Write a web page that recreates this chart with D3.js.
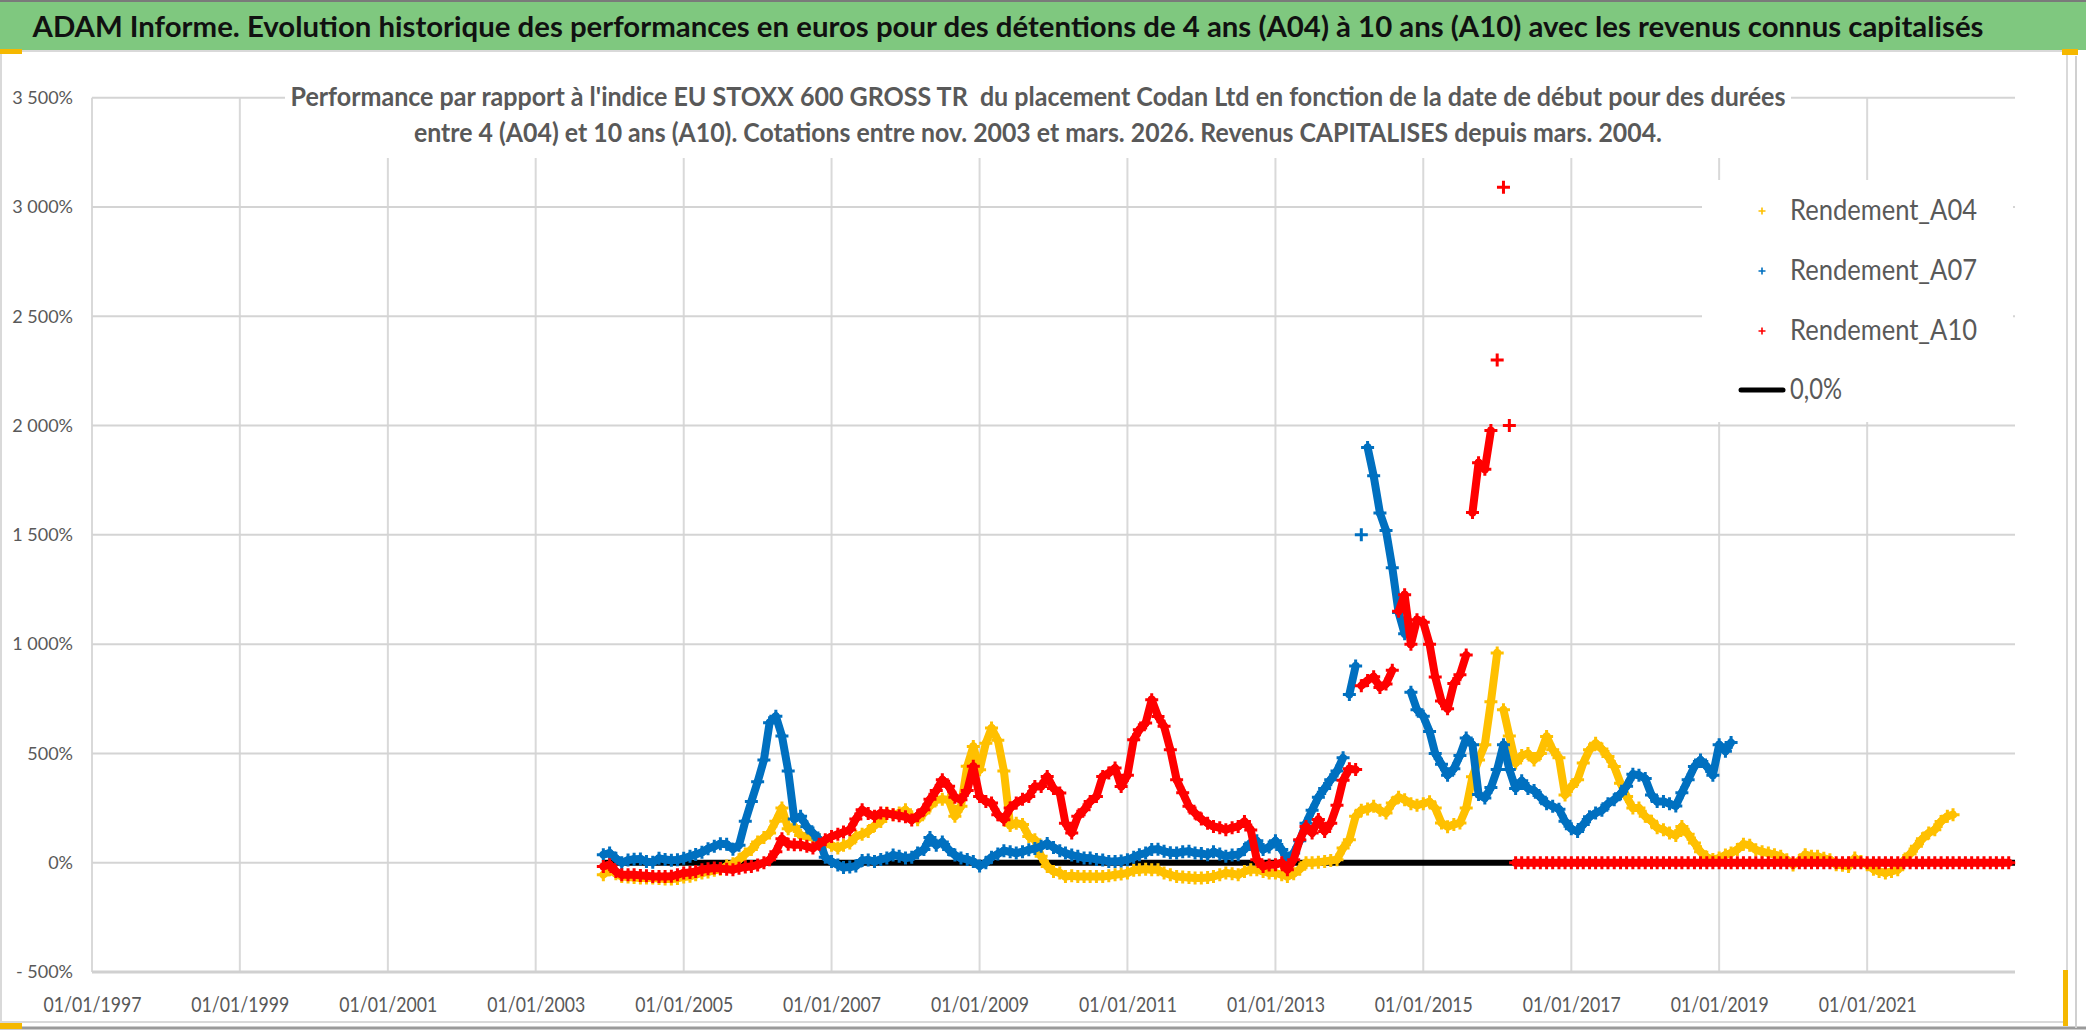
<!DOCTYPE html>
<html>
<head>
<meta charset="utf-8">
<script src="https://cdn.jsdelivr.net/npm/d3@7"></script>
<style>
  body { margin: 0; background: #fff; overflow: hidden; }
  text { font-family: Lato, "Open Sans", sans-serif; }
</style>
</head>
<body>
<div class="main-graph"></div>
<script>
// ====== Data (one value per month, first value = Dec 2003) ======
var firstMonth = "2003-12";

var a04 = [
  -55,
  -32,-50,-63,-65,-68,-70,-70,-70,-72,-74,-75,-72,
  -65,-62,-55,-47,-42,-35,-30,-15,-5,14,40,60,
  95,115,136,190,250,155,166,125,120,115,105,90,
  80,67,80,90,120,130,143,170,189,227,220,227,
  242,210,197,227,260,288,290,288,212,258,441,532,
  425,547,616,560,420,170,181,175,120,105,29,-17,
  -40,-47,-63,-60,-63,-63,-63,-63,-63,-60,-55,-52,
  -47,-35,-32,-30,-32,-32,-47,-55,-63,-65,-68,-70,
  -70,-68,-63,-55,-47,-50,-55,-40,-32,-32,-40,-47,
  -47,-55,-63,-50,-30,0,0,2,6,10,14,67,
  105,212,240,246,258,240,227,273,300,288,270,263,
  270,279,250,182,165,175,182,250,393,470,540,736,
  960,700,580,456,490,500,470,500,578,517,480,310,
  349,380,456,517,547,520,486,440,364,303,250,250,
  212,190,160,151,136,125,166,130,90,50,25,15,
  21,35,44,60,85,80,59,50,44,37,30,14,
  -10,10,37,30,29,20,14,-9,-12,-17,21,5,
  -9,-30,-40,-47,-40,-32,10,40,75,110,136,151,
  189,212,220
];

var a07 = [
  37,
  44,20,0,12,16,17,5,2,20,15,11,13,
  20,29,38,48,64,75,87,84,62,80,190,280,
  370,470,640,670,580,420,200,212,165,136,105,25,
  5,-10,-22,-20,-15,10,12,6,15,21,35,30,
  22,25,45,60,115,80,95,60,35,21,15,5,
  -15,0,25,40,55,50,44,50,59,65,75,88,
  70,55,44,35,29,22,21,15,12,6,6,8,
  14,25,37,44,60,62,52,46,44,50,52,45,
  42,37,50,40,29,35,37,60,90,100,60,72,
  100,60,14,44,100,180,240,300,340,380,420,480,
  770,900,1500,1900,1770,1600,1520,1350,1145,1047,780,700,
  670,600,500,450,400,430,490,570,540,312,296,344,
  426,540,426,340,375,340,330,300,270,258,245,190,
  155,143,175,210,227,240,270,288,315,350,405,400,
  385,310,280,280,270,260,320,380,440,470,440,400,
  540,510,550
];

var a10 = [
  -17,
  -9,-40,-55,-55,-55,-58,-60,-63,-63,-63,-62,-55,
  -47,-45,-40,-32,-28,-24,-26,-30,-32,-25,-20,-17,
  -10,0,14,50,110,85,82,82,75,67,85,105,
  120,130,140,151,200,242,225,212,227,225,220,215,
  210,195,215,242,290,330,380,350,300,288,330,441,
  303,280,273,220,197,250,273,290,303,349,349,395,
  340,319,180,136,212,242,280,303,395,410,433,349,
  400,563,608,639,746,669,624,517,380,320,258,227,
  200,181,166,160,151,160,166,189,150,14,-17,-10,
  -9,0,-32,14,105,166,136,198,143,181,263,377,
  430,426,810,834,851,802,818,880,1150,1226,1000,1112,
  1100,1000,850,740,704,820,860,950,1602,1830,1800,1977,
  2300,3090,2000,
  0,0,0,0,0,0,0,0,0,
  0,0,0,0,0,0,0,0,0,0,0,0,
  0,0,0,0,0,0,0,0,0,0,0,0,
  0,0,0,0,0,0,0,0,0,0,0,0,
  0,0,0,0,0,0,0,0,0,0,0,0,
  0,0,0,0,0,0,0,0,0,0,0,0,
  0,0,0,0,0,0,0,0,0,0,0,0
];

var zeroLine = ["2003-12-01", "2023-01-01"];

var xTickYears = [1997, 1999, 2001, 2003, 2005, 2007, 2009, 2011, 2013, 2015, 2017, 2019, 2021];
var yTicks = [-500, 0, 500, 1000, 1500, 2000, 2500, 3000, 3500];

var titleText = "ADAM Informe. Evolution historique des performances en euros pour des détentions de 4 ans (A04) à 10 ans (A10) avec les revenus connus capitalisés";
var subtitleLines = [
  "Performance par rapport à l'indice EU STOXX 600 GROSS TR  du placement Codan Ltd en fonction de la date de début pour des durées",
  "entre 4 (A04) et 10 ans (A10). Cotations entre nov. 2003 et mars. 2026. Revenus CAPITALISES depuis mars. 2004."
];
var seriesNames = ["Rendement_A04", "Rendement_A07", "Rendement_A10"];
var lineName = "0,0%";

// ====== Layout ======
var width = 2086, height = 1031;
var plot = {left: 92, right: 2015, top: 97.7, bottom: 972};
var colors = ["#FFC000", "#0070C0", "#FF0000"];

var svg = d3.select(".main-graph")
            .append("svg")
            .attr("width", width)
            .attr("height", height);

// Title band
svg.append("rect")
   .attr("x", 0).attr("y", 0)
   .attr("width", width).attr("height", 50)
   .attr("fill", "#7FC87F");
svg.append("line")
   .attr("x1", 0).attr("x2", width).attr("y1", 1).attr("y2", 1)
   .attr("stroke", "#7a7a7a").attr("stroke-width", 2);
svg.append("text")
   .attr("x", 1008).attr("y", 37)
   .attr("text-anchor", "middle")
   .attr("textLength", 1951)
   .attr("lengthAdjust", "spacingAndGlyphs")
   .style("font-size", "28px")
   .style("font-weight", "bold")
   .attr("fill", "#111")
   .text(titleText);

// Chart frame + selection marks
svg.append("rect")
   .attr("x", 1).attr("y", 51)
   .attr("width", 2066).attr("height", 971)
   .attr("fill", "none")
   .attr("stroke", "#d9d9d9").attr("stroke-width", 2);
svg.append("line")
   .attr("x1", 0).attr("x2", width).attr("y1", 1028).attr("y2", 1028)
   .attr("stroke", "#9a9a9a").attr("stroke-width", 3);
svg.append("line")
   .attr("x1", 2076).attr("x2", 2076).attr("y1", 56).attr("y2", 1028)
   .attr("stroke", "#d0d0d0").attr("stroke-width", 2);
[[0, 49, 22, 5], [0, 1023, 22, 6], [2062, 49, 16, 6], [2063, 970, 5, 56]].forEach(function(r){
  svg.append("rect")
     .attr("x", r[0]).attr("y", r[1]).attr("width", r[2]).attr("height", r[3])
     .attr("fill", "#F5B800");
});

// ====== Scales ======
var parseDay = d3.timeParse("%Y-%m-%d");
var parseMonth = d3.timeParse("%Y-%m");
var m0 = parseMonth(firstMonth);

var x = d3.scaleTime()
          .domain([new Date(1997, 0, 1), new Date(2023, 0, 1)])
          .range([plot.left, plot.right]);
var y = d3.scaleLinear()
          .domain([-500, 3500])
          .range([plot.bottom, plot.top]);

// ====== Gridlines ======
var xTickDates = xTickYears.map(function(yr){ return new Date(yr, 0, 1); });

svg.append("g")
   .attr("class", "grid")
   .selectAll("line")
   .data(xTickDates)
   .join("line")
   .attr("x1", function(d){ return x(d); })
   .attr("x2", function(d){ return x(d); })
   .attr("y1", plot.top)
   .attr("y2", plot.bottom)
   .attr("stroke", "#d9d9d9")
   .attr("stroke-width", 2);

svg.append("g")
   .attr("class", "grid")
   .selectAll("line")
   .data(yTicks)
   .join("line")
   .attr("x1", plot.left)
   .attr("x2", plot.right)
   .attr("y1", function(d){ return y(d); })
   .attr("y2", function(d){ return y(d); })
   .attr("stroke", function(d){ return d === -500 ? "#d0d0d0" : "#d4d4d4"; })
   .attr("stroke-width", function(d){ return d === -500 ? 3 : 2; });

// white boxes behind subtitle and legend
svg.append("rect")
   .attr("x", 285).attr("y", 76).attr("width", 1506).attr("height", 82)
   .attr("fill", "#fff");
svg.append("rect")
   .attr("x", 1702).attr("y", 180).attr("width", 311).attr("height", 242)
   .attr("fill", "#fff");

// ====== Axes ======
function pctFormat(d) {
  var s = d3.format(",")(Math.abs(d)).replace(",", "\u00a0") + "%";
  return d < 0 ? "-\u00a0" + s : s;
}

svg.append("g")
   .attr("class", "y-axis")
   .attr("transform", "translate(" + plot.left + ",0)")
   .call(d3.axisLeft(y)
           .tickValues(yTicks)
           .tickSize(0)
           .tickPadding(19)
           .tickFormat(pctFormat))
   .call(function(g){ g.select(".domain").remove(); })
   .selectAll("text")
   .style("font-size", "18px")
   .style("font-family", "Lato, 'Open Sans', sans-serif")
   .attr("fill", "#595959");

svg.append("g")
   .attr("class", "x-axis")
   .attr("transform", "translate(0," + plot.bottom + ")")
   .call(d3.axisBottom(x)
           .tickValues(xTickDates)
           .tickSize(0)
           .tickFormat(d3.timeFormat("%d/%m/%Y")))
   .call(function(g){ g.select(".domain").remove(); })
   .selectAll("text")
   .attr("y", 40)
   .attr("dy", null)
   .attr("textLength", 98)
   .attr("lengthAdjust", "spacingAndGlyphs")
   .style("font-size", "21px")
   .style("font-family", "Lato, 'Open Sans', sans-serif")
   .attr("fill", "#595959");

// ====== 0% line ======
var line = d3.line()
             .x(function(d){ return x(parseDay(d)); })
             .y(function(){ return y(0); });

svg.append("path")
   .attr("d", line(zeroLine))
   .attr("fill", "none")
   .attr("stroke", "#000")
   .attr("stroke-width", 6);

// ====== Scatter series ("+" markers) ======
var plusPath = "M-6.5,0H6.5M0,-6.5V6.5";
var plusSmall = "M-3.5,0H3.5M0,-3.5V3.5";

function px(i) { return x(d3.timeMonth.offset(m0, i)); }

[a04, a07, a10].forEach(function(values, k){
  var g = svg.append("g").attr("class", "series");

  // dense daily quotes show as a band: join neighbours unless the jump is large
  var segs = d3.pairs(values.map(function(v, i){ return [i, v]; }))
               .filter(function(p){ return Math.abs(p[1][1] - p[0][1]) <= 250; });
  g.selectAll("line")
   .data(segs)
   .join("line")
   .attr("x1", function(p){ return px(p[0][0]); })
   .attr("y1", function(p){ return y(p[0][1]); })
   .attr("x2", function(p){ return px(p[1][0]); })
   .attr("y2", function(p){ return y(p[1][1]); })
   .attr("stroke", colors[k])
   .attr("stroke-width", 8)
   .attr("stroke-linecap", "round");

  g.selectAll("path")
   .data(values)
   .join("path")
   .attr("transform", function(d, i){
     return "translate(" + px(i) + "," + y(d) + ")";
   })
   .attr("d", plusPath)
   .attr("fill", "none")
   .attr("stroke", colors[k])
   .attr("stroke-width", 3);
});

// ====== Subtitle ======
var subLengths = [1495, 1248];
subtitleLines.forEach(function(t, i){
  svg.append("text")
     .attr("x", 1038).attr("y", 106 + i * 36)
     .attr("text-anchor", "middle")
     .attr("textLength", subLengths[i])
     .attr("lengthAdjust", "spacingAndGlyphs")
     .style("font-size", "27px")
     .style("font-weight", "bold")
     .style("white-space", "pre")
     .attr("fill", "#595959")
     .text(t);
});

// ====== Legend ======
var legend = svg.append("g").attr("class", "legend");
seriesNames.forEach(function(name, i){
  var ly = 211 + i * 60;
  legend.append("path")
        .attr("transform", "translate(1762," + ly + ")")
        .attr("d", plusSmall)
        .attr("stroke", colors[i])
        .attr("stroke-width", 1.6);
  legend.append("text")
        .attr("x", 1790).attr("y", ly + 9)
        .attr("textLength", 187)
        .attr("lengthAdjust", "spacingAndGlyphs")
        .style("font-size", "28px")
        .attr("fill", "#595959")
        .text(name);
});
legend.append("line")
      .attr("x1", 1741).attr("x2", 1783)
      .attr("y1", 390).attr("y2", 390)
      .attr("stroke", "#000")
      .attr("stroke-width", 5)
      .attr("stroke-linecap", "round");
legend.append("text")
      .attr("x", 1790).attr("y", 399)
      .attr("textLength", 52)
      .attr("lengthAdjust", "spacingAndGlyphs")
      .style("font-size", "28px")
      .attr("fill", "#595959")
      .text(lineName);
</script>
</body>
</html>
